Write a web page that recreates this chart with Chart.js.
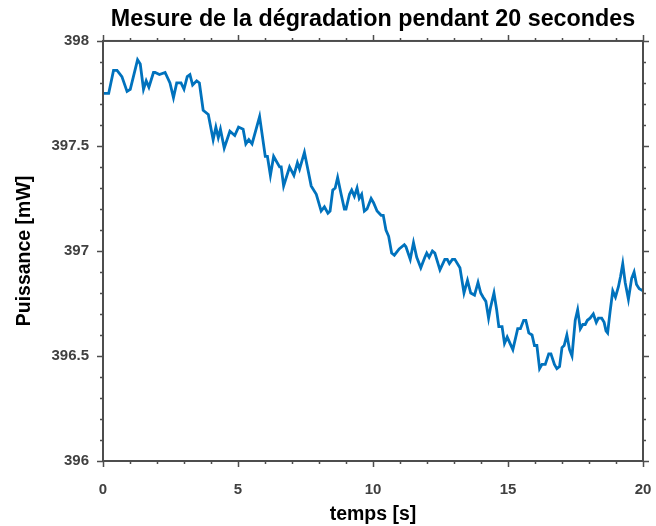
<!DOCTYPE html>
<html>
<head>
<meta charset="utf-8">
<script src="https://cdn.jsdelivr.net/npm/chart.js@4"></script>
<style>
  body { margin: 0; background: #fff; }
  #wrap { width: 656px; height: 526px; }
</style>
</head>
<body>
<div id="wrap"><canvas id="myChart"></canvas></div>
<script>
// temps [s]
const temps = [
  0.00, 0.21, 0.39, 0.52, 0.70, 0.89, 1.01, 1.28, 1.38, 1.50, 1.60, 1.70, 1.87, 1.93,
  2.09, 2.30, 2.48, 2.61, 2.73, 2.89, 3.00, 3.12, 3.22, 3.32, 3.47, 3.57, 3.71, 3.90,
  4.08, 4.18, 4.27, 4.35, 4.49, 4.70, 4.88, 5.02, 5.19, 5.29, 5.40, 5.52, 5.80, 6.01,
  6.09, 6.20, 6.32, 6.54, 6.60, 6.69, 6.91, 7.07, 7.20, 7.28, 7.46, 7.71, 7.90, 8.08,
  8.20, 8.33, 8.41, 8.51, 8.60, 8.69, 8.82, 8.94, 9.00, 9.13, 9.21, 9.31, 9.41, 9.49,
  9.58, 9.68, 9.78, 9.93, 10.02, 10.15, 10.30, 10.38, 10.48, 10.58, 10.69, 10.79, 10.97,
  11.16, 11.22, 11.38, 11.50, 11.62, 11.77, 11.92, 11.99, 12.08, 12.20, 12.29, 12.48,
  12.66, 12.75, 12.83, 12.94, 13.03, 13.22, 13.37, 13.50, 13.62, 13.76, 13.89, 13.99,
  14.08, 14.18, 14.28, 14.35, 14.48, 14.58, 14.66, 14.78, 14.87, 14.97, 15.18, 15.36,
  15.46, 15.58, 15.66, 15.77, 15.89, 15.98, 16.07, 16.17, 16.26, 16.38, 16.51, 16.59,
  16.72, 16.81, 16.91, 17.00, 17.08, 17.18, 17.28, 17.37, 17.49, 17.58, 17.68, 17.77,
  17.86, 17.94, 18.04, 18.16, 18.27, 18.35, 18.47, 18.56, 18.63, 18.69, 18.78, 18.88,
  18.98, 19.09, 19.17, 19.25, 19.34, 19.46, 19.58, 19.67, 19.76, 19.86, 20.00
];
// puissance [mW]
const puissance = [
  397.75, 397.75, 397.86, 397.86, 397.83, 397.76, 397.77, 397.91, 397.89, 397.77, 397.81, 397.78, 397.85, 397.85,
  397.84, 397.85, 397.80, 397.73, 397.80, 397.80, 397.77, 397.83, 397.84, 397.79, 397.81, 397.80, 397.67, 397.65,
  397.53, 397.59, 397.54, 397.58, 397.49, 397.57, 397.55, 397.59, 397.58, 397.51, 397.53, 397.51, 397.64, 397.45,
  397.45, 397.36, 397.45, 397.40, 397.40, 397.31, 397.40, 397.36, 397.42, 397.39, 397.47, 397.31, 397.27, 397.19,
  397.21, 397.18, 397.19, 397.29, 397.30, 397.35, 397.27, 397.20, 397.20, 397.27, 397.29, 397.26, 397.30, 397.25,
  397.27, 397.19, 397.20, 397.25, 397.23, 397.19, 397.17, 397.17, 397.10, 397.07, 396.99, 396.98, 397.01,
  397.03, 397.02, 396.96, 397.04, 396.97, 396.92, 396.97, 396.99, 396.97, 397.00, 396.99, 396.91,
  396.96, 396.96, 396.94, 396.96, 396.96, 396.92, 396.80, 396.86, 396.80, 396.79, 396.85, 396.80,
  396.78, 396.76, 396.68, 396.73, 396.80, 396.72, 396.64, 396.64, 396.56, 396.59, 396.53, 396.63,
  396.63, 396.67, 396.67, 396.61, 396.60, 396.55, 396.55, 396.44, 396.46, 396.46, 396.51, 396.51,
  396.46, 396.44, 396.45, 396.54, 396.55, 396.60, 396.53, 396.50, 396.67, 396.72, 396.63, 396.65,
  396.65, 396.67, 396.68, 396.70, 396.66, 396.68, 396.68, 396.66, 396.62, 396.61, 396.71, 396.81,
  396.78, 396.83, 396.88, 396.94, 396.85, 396.77, 396.87, 396.90, 396.84, 396.82, 396.81
];

const xTicks = [0, 5, 10, 15, 20];
const yTicks = [396, 396.5, 397, 397.5, 398];
const xMinorStep = 1;
const yMinorStep = 0.1;

const axisColor = '#4d4d4d';

// cadre complet + graduations vers l'extérieur sur les 4 côtés
const boxTicks = {
  id: 'boxTicks',
  afterDraw(chart) {
    const { ctx, chartArea: a, scales: { x, y } } = chart;
    ctx.save();
    ctx.strokeStyle = axisColor;
    ctx.lineWidth = 2;
    ctx.strokeRect(a.left, a.top, a.right - a.left, a.bottom - a.top);
    ctx.lineWidth = 1.5;
    ctx.beginPath();
    const nx = Math.round((x.max - x.min) / xMinorStep);
    for (let i = 0; i <= nx; i++) {
      const v = x.min + i * xMinorStep;
      const px = Math.round(x.getPixelForValue(v)) + 0.5;
      const len = xTicks.includes(v) ? 6 : 3;
      ctx.moveTo(px, a.bottom); ctx.lineTo(px, a.bottom + len);
      ctx.moveTo(px, a.top); ctx.lineTo(px, a.top - len);
    }
    const ny = Math.round((y.max - y.min) / yMinorStep);
    for (let i = 0; i <= ny; i++) {
      const v = +(y.min + i * yMinorStep).toFixed(1);
      const py = Math.round(y.getPixelForValue(v)) + 0.5;
      const len = yTicks.includes(v) ? 6 : 3;
      ctx.moveTo(a.left, py); ctx.lineTo(a.left - len, py);
      ctx.moveTo(a.right, py); ctx.lineTo(a.right + len, py);
    }
    ctx.stroke();
    ctx.restore();
  }
};

const tickFont = { family: 'Liberation Sans, Arial, sans-serif', size: 15, weight: 'bold' };
const titleFont = { family: 'Liberation Sans, Arial, sans-serif', size: 19.5, weight: 'bold' };

new Chart(document.getElementById('myChart'), {
  type: 'line',
  data: {
    datasets: [{
      data: temps.map((t, i) => ({ x: t, y: puissance[i] })),
      borderColor: '#0072BD',
      borderWidth: 2.8,
      pointRadius: 0,
      tension: 0,
      fill: false
    }]
  },
  options: {
    responsive: true,
    maintainAspectRatio: false,
    animation: false,
    layout: { padding: { left: 0, right: 13, top: 0, bottom: 0 } },
    plugins: {
      legend: { display: false },
      tooltip: { enabled: false },
      title: {
        display: true,
        fullSize: false,
        text: 'Mesure de la dégradation pendant 20 secondes',
        color: '#000',
        font: { family: 'Liberation Sans, Arial, sans-serif', size: 23.3, weight: 'bold' },
        padding: { top: 6, bottom: 7 }
      }
    },
    scales: {
      x: {
        type: 'linear',
        min: 0,
        max: 20,
        afterBuildTicks: (s) => { s.ticks = xTicks.map(v => ({ value: v })); },
        afterFit: (s) => { s.height = 65; s.paddingLeft = 0; s.paddingRight = 0; },
        grid: { display: false, drawTicks: false },
        border: { display: false },
        ticks: { color: '#404040', font: tickFont, padding: 20, maxRotation: 0 },
        title: { display: true, text: 'temps [s]', color: '#000', font: titleFont, padding: { top: 6, bottom: 0 } }
      },
      y: {
        min: 396,
        max: 398,
        afterBuildTicks: (s) => { s.ticks = yTicks.map(v => ({ value: v })); },
        afterFit: (s) => { s.width = 103; },
        grid: { display: false, drawTicks: false },
        border: { display: false },
        ticks: { color: '#404040', font: tickFont, padding: 14, callback: (v) => String(v) },
        title: { display: true, text: 'Puissance [mW]', color: '#000', font: titleFont, padding: { top: 13, bottom: 0 } }
      }
    }
  },
  plugins: [boxTicks]
});
</script>
</body>
</html>
